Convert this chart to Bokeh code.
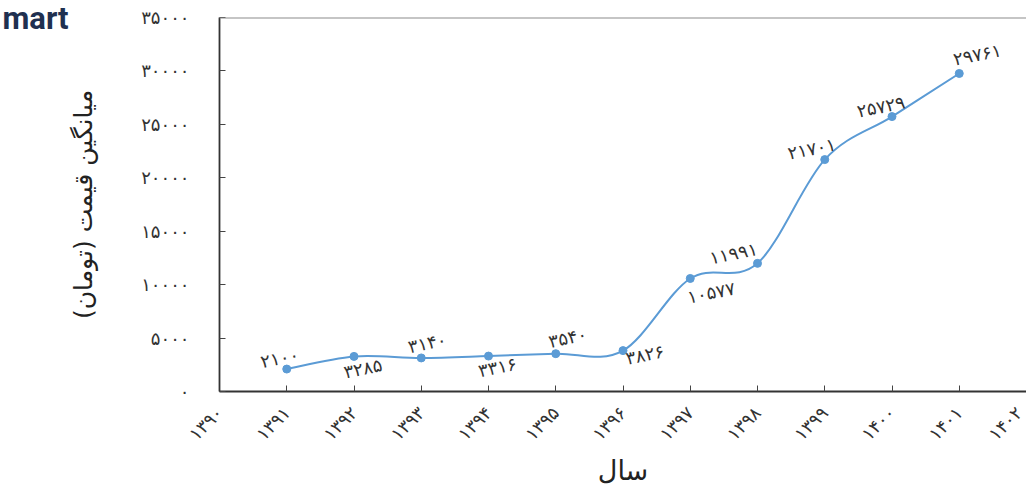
import numpy as np
from bokeh.plotting import figure
from bokeh.models import ColumnDataSource, FixedTicker, Span, Label
from bokeh.core.properties import value
from bokeh.embed import file_html
from bokeh.resources import INLINE

years = [1391, 1392, 1393, 1394, 1395, 1396, 1397, 1398, 1399, 1400, 1401]
prices = [2100, 3285, 3140, 3316, 3540, 3826, 10577, 11991, 21701, 25729, 29761]
x_ticks = list(range(1390, 1403))
y_ticks = list(range(0, 35001, 5000))
x_title = "سال"
y_title = "میانگین قیمت (تومان)"

FA = str.maketrans("0123456789", "۰۱۲۳۴۵۶۷۸۹")
def fa(v):
    return str(v).translate(FA)

# label placement (pixels) per point
label_dx = [-7, 9, 6, 9, 12, 22, 21, -24, -13, -11, 18]
label_dy = [-11, 12, -15, 11, -16, 4, 14, -10, -11, -10, -19]

FONT = "DejaVu Sans"
BLUE = "#5b9bd5"

W, H = 1026, 490
LEFT, TOP, BOTTOM = 193, 17, 99

p = figure(width=W, height=H, x_range=(1390, 1402), y_range=(0, 35000),
           output_backend="svg", toolbar_location=None,
           min_border_left=LEFT, min_border_right=0, min_border_top=TOP, min_border_bottom=BOTTOM)
p.grid.visible = False
p.outline_line_color = None
p.background_fill_color = "white"

# smooth curve (Catmull-Rom style bezier through the data points)
xs = np.array(years, dtype=float)
ys = np.array(prices, dtype=float)
n = len(xs)
xp = np.concatenate([[xs[0]], xs, [xs[-1]]])
yp = np.concatenate([[ys[0]], ys, [ys[-1]]])
cx0 = xs[:-1] + (xp[2:n+1] - xp[0:n-1]) / 6.0
cy0 = ys[:-1] + (yp[2:n+1] - yp[0:n-1]) / 6.0
cx1 = xs[1:] - (xp[3:n+2] - xp[1:n]) / 6.0
cy1 = ys[1:] - (yp[3:n+2] - yp[1:n]) / 6.0
p.bezier(x0=xs[:-1], y0=ys[:-1], x1=xs[1:], y1=ys[1:],
         cx0=cx0, cy0=cy0, cx1=cx1, cy1=cy1, line_color=BLUE, line_width=2)

p.scatter(years, prices, size=8, color=BLUE)

src = ColumnDataSource(dict(x=years, y=prices, t=[fa(v) for v in prices],
                            dx=label_dx, dy=label_dy))
p.text(x="x", y="y", text="t", source=src, x_offset="dx", y_offset="dy",
       angle=0.2, text_align="center", text_baseline="middle",
       text_font=value(FONT), text_font_size="18px", text_color="#333333")

# top border line
p.add_layout(Span(location=35000, dimension="width", line_color="#8c8c8c", line_width=2))

# axes
for ax in (p.xaxis[0], p.yaxis[0]):
    ax.axis_line_color = "#333333"
    ax.axis_line_width = 1.8
    ax.major_tick_line_color = "#444444"
    ax.major_tick_in = 6
    ax.major_tick_out = 0
    ax.minor_tick_line_color = None
    ax.major_label_text_font = FONT
    ax.major_label_text_font_size = "18px"
    ax.major_label_text_color = "#333333"
    ax.axis_label_text_font = FONT
    ax.axis_label_text_font_style = "normal"
    ax.axis_label_text_color = "#222222"

p.yaxis.ticker = FixedTicker(ticks=y_ticks)
p.yaxis.major_label_overrides = {v: fa(v) for v in y_ticks}
p.yaxis.major_label_standoff = 30
p.yaxis.axis_label = y_title
p.yaxis.axis_label_text_font_size = "25px"
p.yaxis.axis_label_standoff = 40

p.xaxis.ticker = FixedTicker(ticks=x_ticks)
p.xaxis.major_label_overrides = {v: fa(v) for v in x_ticks}
p.xaxis.major_label_orientation = np.pi / 4
p.xaxis.major_label_standoff = 18
p.xaxis.axis_label = x_title
p.xaxis.axis_label_text_font_size = "27px"
p.xaxis.axis_label_standoff = 0

# watermark logo (partially visible in the reference), placed in the left panel
frame_h = H - TOP - BOTTOM
p.add_layout(Label(x=2, y=frame_h + TOP + 1, x_units="screen", y_units="screen", text="mart",
                   text_font="Roboto", text_font_size="31px", text_font_style="bold",
                   text_color="#1f3050", text_baseline="top"), "left")

open("out.html", "w").write(file_html(p, INLINE))
